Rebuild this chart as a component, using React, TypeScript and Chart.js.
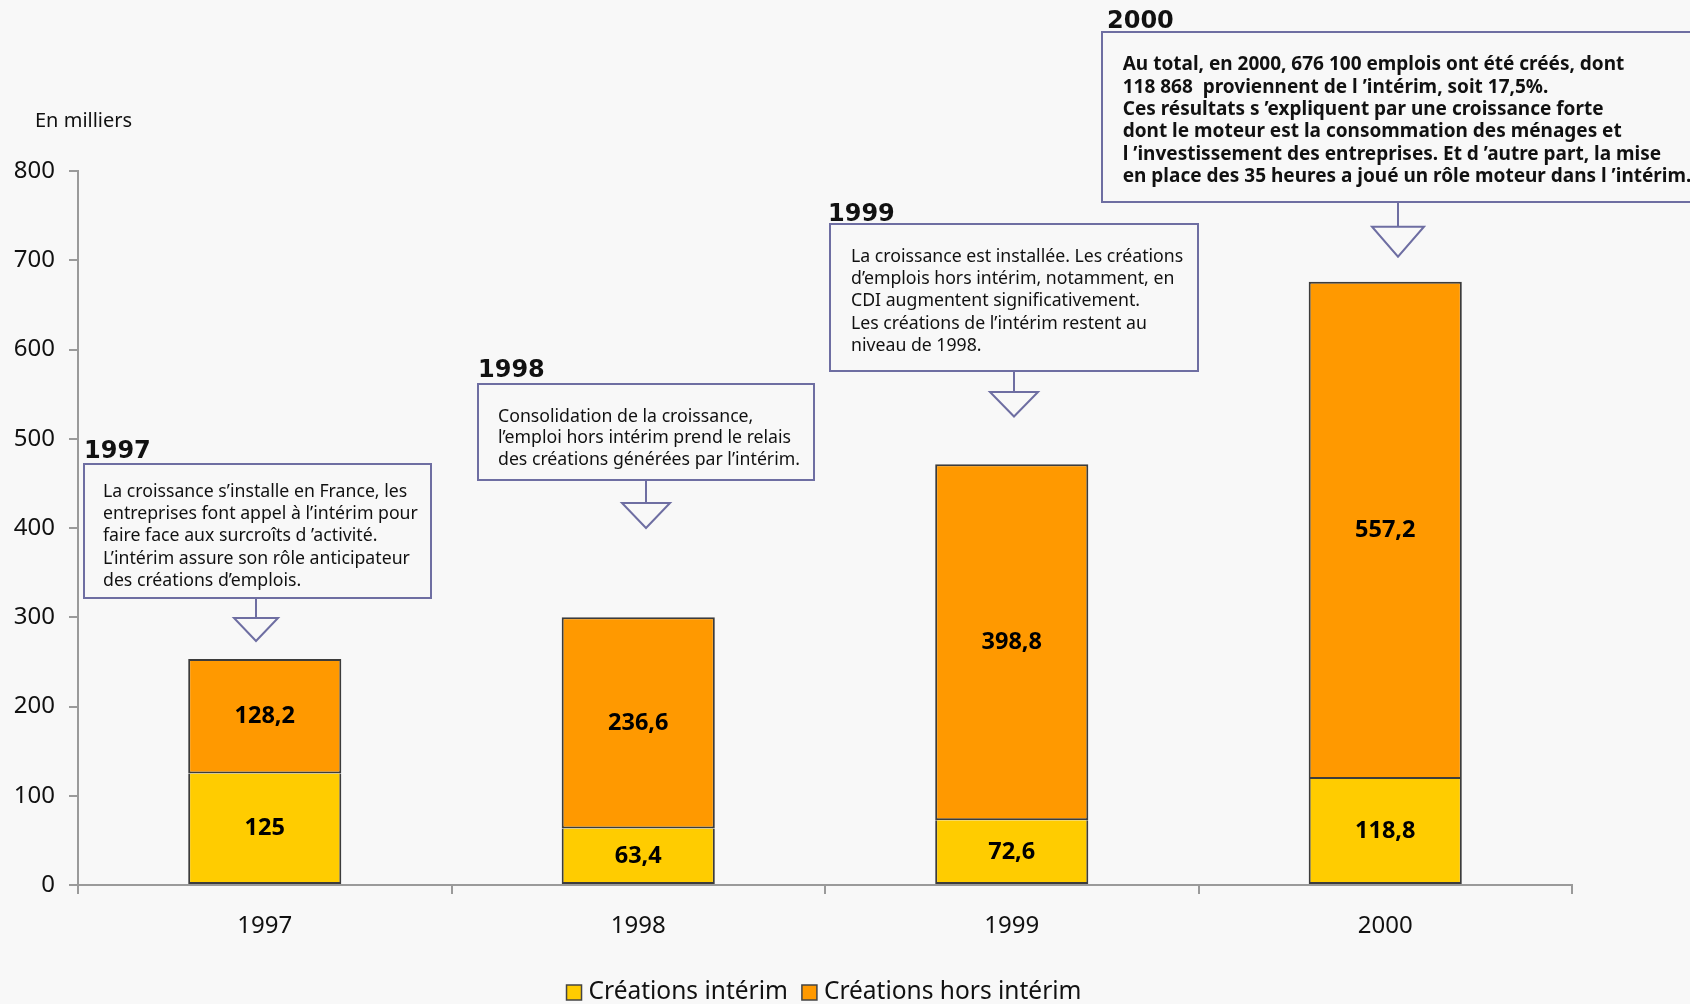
import React, { useEffect, useRef } from 'react';
import { Chart, registerables } from 'chart.js';

Chart.register(...registerables);

// ---- data ----
const YEARS = ['1997', '1998', '1999', '2000'];
const INTERIM = [125, 63.4, 72.6, 118.8];
const HORS_INTERIM = [128.2, 236.6, 398.8, 557.2];
const SERIES_LABELS = ['Créations intérim', 'Créations hors intérim'];
const Y_MIN = 0;
const Y_MAX = 800;
const Y_STEP = 100;
const UNIT_LABEL = 'En milliers';

const NOTE_TITLES = ['1997', '1998', '1999', '2000'];
const NOTE_1997 = [
  'La croissance s’installe en France, les',
  'entreprises font appel à l’intérim pour',
  'faire face aux surcroîts d ’activité.',
  'L’intérim assure son rôle anticipateur',
  'des créations d’emplois.',
];
const NOTE_1998 = [
  'Consolidation de la croissance,',
  'l’emploi hors intérim prend le relais',
  'des créations générées par l’intérim.',
];
const NOTE_1999 = [
  'La croissance est installée. Les créations',
  'd’emplois hors intérim, notamment, en',
  'CDI augmentent significativement.',
  'Les créations de l’intérim restent au',
  'niveau de 1998.',
];
const NOTE_2000 = [
  'Au total, en 2000, 676 100 emplois ont été créés, dont',
  '118 868  proviennent de l ’intérim, soit 17,5%.',
  'Ces résultats s ’expliquent par une croissance forte',
  'dont le moteur est la consommation des ménages et',
  'l ’investissement des entreprises. Et d ’autre part, la mise',
  'en place des 35 heures a joué un rôle moteur dans l ’intérim.',
];
const NOTE_LINES = [NOTE_1997, NOTE_1998, NOTE_1999, NOTE_2000];

// ---- layout / style (pixels) ----
const W = 1690;
const H = 1004;
const BG = '#F8F8F8';
const YELLOW = '#FFCC00';
const ORANGE = '#FF9900';
const BAR_BORDER = '#3C3C3C';
const AXIS = '#9A9A9A';
const BOX = '#6E6EA2';
const TEXT = '#111111';
const FONT = '"Noto Sans", sans-serif';
const TITLE_FONT = '"DejaVu Sans", sans-serif';

const NOTE_LAYOUT = [
  { l: 84, t: 464, r: 431, b: 598, stem: 256, triTop: 618, hw: 22, tip: 641, titleX: 84, titleY: 458, textX: 103, textY: 491.7, lh: 22.3, bold: false },
  { l: 478, t: 384, r: 814, b: 480, stem: 646, triTop: 503, hw: 24, tip: 528, titleX: 478, titleY: 376.7, textX: 498, textY: 416.7, lh: 21.7, bold: false },
  { l: 830, t: 224, r: 1198, b: 371, stem: 1014, triTop: 392, hw: 24, tip: 416.5, titleX: 828, titleY: 220.7, textX: 851, textY: 256.7, lh: 22.3, bold: false },
  { l: 1102, t: 32, r: 1720, b: 202, stem: 1398, triTop: 226.7, hw: 26, tip: 256.7, titleX: 1107, titleY: 28.3, textX: 1122.7, textY: 65, lh: 22.3, bold: true },
];

const fmt = (v: number) => String(v).replace('.', ',');

const bgPlugin = {
  id: 'bg',
  beforeDraw(chart: any) {
    const { ctx } = chart;
    ctx.save();
    ctx.fillStyle = BG;
    ctx.fillRect(0, 0, chart.width, chart.height);
    ctx.restore();
  },
};

const valueLabelPlugin = {
  id: 'valueLabels',
  afterDatasetsDraw(chart: any) {
    const { ctx } = chart;
    ctx.save();
    ctx.font = `bold 23.5px ${FONT}`;
    ctx.fillStyle = '#000';
    ctx.textAlign = 'center';
    ctx.textBaseline = 'middle';
    chart.data.datasets.forEach((ds: any, di: number) => {
      const meta = chart.getDatasetMeta(di);
      meta.data.forEach((el: any, i: number) => {
        const y = (el.y + el.base) / 2;
        ctx.fillText(fmt(ds.data[i]), el.x, y);
      });
    });
    ctx.restore();
  },
};

const extrasPlugin = {
  id: 'extras',
  afterDraw(chart: any) {
    const { ctx, chartArea } = chart;
    ctx.save();
    // unit label
    ctx.font = `20px ${FONT}`;
    ctx.fillStyle = TEXT;
    ctx.textAlign = 'left';
    ctx.textBaseline = 'middle';
    ctx.fillText(UNIT_LABEL, 35, 121.7);

    // annotations
    NOTE_LAYOUT.forEach((n, i) => {
      ctx.strokeStyle = BOX;
      ctx.lineWidth = 2;
      ctx.strokeRect(n.l, n.t, n.r - n.l, n.b - n.t);
      ctx.beginPath();
      ctx.moveTo(n.stem, n.b);
      ctx.lineTo(n.stem, n.triTop);
      ctx.stroke();
      ctx.beginPath();
      ctx.moveTo(n.stem - n.hw, n.triTop);
      ctx.lineTo(n.stem + n.hw, n.triTop);
      ctx.lineTo(n.stem, n.tip);
      ctx.closePath();
      ctx.fillStyle = BG;
      ctx.fill();
      ctx.stroke();

      ctx.fillStyle = TEXT;
      ctx.textAlign = 'left';
      ctx.textBaseline = 'alphabetic';
      ctx.font = `bold 24px ${TITLE_FONT}`;
      ctx.fillText(NOTE_TITLES[i], n.titleX, n.titleY);

      ctx.textBaseline = 'middle';
      ctx.font = n.bold ? `bold 19px ${FONT}` : `17.7px ${FONT}`;
      NOTE_LINES[i].forEach((line, k) => {
        ctx.fillText(line, n.textX, n.textY + k * n.lh);
      });
    });

    // legend
    ctx.font = `24.5px ${FONT}`;
    const box = 15;
    const gap = 7;
    const itemGap = 14;
    const colors = [YELLOW, ORANGE];
    const widths = SERIES_LABELS.map((s) => ctx.measureText(s).width);
    const total = widths.reduce((a, w) => a + box + gap + w, 0) + itemGap;
    let x = (chartArea.left + chartArea.right) / 2 - total / 2 - 1;
    const cy = 992.5;
    SERIES_LABELS.forEach((s, i) => {
      ctx.fillStyle = colors[i];
      ctx.fillRect(x, cy - box / 2, box, box);
      ctx.strokeStyle = '#444';
      ctx.lineWidth = 1.5;
      ctx.strokeRect(x, cy - box / 2, box, box);
      ctx.fillStyle = TEXT;
      ctx.textAlign = 'left';
      ctx.textBaseline = 'middle';
      ctx.fillText(s, x + box + gap, cy);
      x += box + gap + widths[i] + itemGap;
    });
    ctx.restore();
  },
};

export default function App() {
  const ref = useRef<HTMLCanvasElement | null>(null);

  useEffect(() => {
    document.body.style.margin = '0';
    document.body.style.background = BG;
    if (!ref.current) return;
    const chart = new Chart(ref.current, {
      type: 'bar',
      data: {
        labels: YEARS,
        datasets: [
          {
            label: SERIES_LABELS[0],
            data: INTERIM,
            backgroundColor: YELLOW,
            borderColor: BAR_BORDER,
            borderWidth: { top: 0, bottom: 2, left: 2, right: 2 },
            borderSkipped: false,
            barPercentage: 0.41,
            categoryPercentage: 1,
          },
          {
            label: SERIES_LABELS[1],
            data: HORS_INTERIM,
            backgroundColor: ORANGE,
            borderColor: BAR_BORDER,
            borderWidth: { top: 2, bottom: 2, left: 2, right: 2 },
            borderSkipped: false,
            barPercentage: 0.41,
            categoryPercentage: 1,
          },
        ],
      },
      options: {
        responsive: false,
        animation: false,
        devicePixelRatio: 1,
        layout: { padding: { top: 171, right: 118, left: 0, bottom: 0 } },
        plugins: {
          legend: { display: false },
          tooltip: { enabled: false },
          title: { display: false },
        },
        scales: {
          x: {
            stacked: true,
            grid: {
              display: true,
              drawOnChartArea: false,
              offset: true,
              tickLength: 9,
              color: AXIS,
              lineWidth: 2,
            },
            border: { color: AXIS, width: 2 },
            ticks: { font: { family: FONT, size: 24 }, color: TEXT, padding: 18 },
            afterFit: (s: any) => {
              s.height = 119;
            },
          },
          y: {
            stacked: true,
            min: Y_MIN,
            max: Y_MAX,
            grid: {
              drawOnChartArea: false,
              tickLength: 9,
              color: AXIS,
              lineWidth: 2,
            },
            border: { color: AXIS, width: 2 },
            ticks: {
              stepSize: Y_STEP,
              font: { family: FONT, size: 24 },
              color: TEXT,
              padding: 14,
            },
            afterFit: (s: any) => {
              s.width = 78;
            },
          },
        },
      } as any,
      plugins: [bgPlugin, valueLabelPlugin, extrasPlugin],
    });
    return () => chart.destroy();
  }, []);

  return (
    <div style={{ position: 'fixed', left: 0, top: 0, width: W, height: H, background: BG }}>
      <canvas ref={ref} width={W} height={H} style={{ width: W, height: H, display: 'block' }} />
    </div>
  );
}
